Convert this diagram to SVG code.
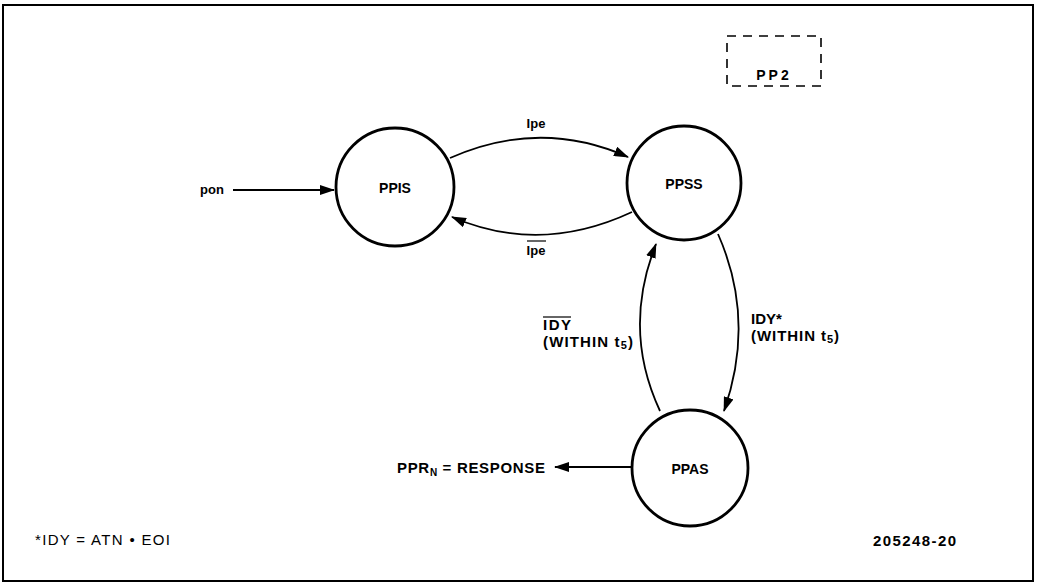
<svg xmlns="http://www.w3.org/2000/svg" width="1037" height="584" viewBox="0 0 1037 584">
<style>
.node{fill:#fff;stroke:#000;stroke-width:2.8}
.edge{fill:none;stroke:#000;stroke-width:1.8}
.lbl{font-family:"Liberation Sans",Arial,sans-serif;font-weight:bold;font-size:15px;fill:#000}
.nl{font-family:"Liberation Sans",Arial,sans-serif;font-weight:bold;font-size:14px;fill:#000}
.sm{font-family:"Liberation Sans",Arial,sans-serif;font-weight:bold;font-size:13px;fill:#000}
.ft{font-family:"Liberation Sans",Arial,sans-serif;font-weight:normal;font-size:15px;fill:#000}
</style>
<defs>
<marker id="ah" markerWidth="15" markerHeight="10" refX="14" refY="5" orient="auto" markerUnits="userSpaceOnUse">
<path d="M0,0 L15,5 L0,10 Z" fill="#000"/>
</marker>
</defs>
<rect x="3" y="5" width="1030" height="576" fill="#fff" stroke="#000" stroke-width="2"/>
<g id="pp2">
<rect x="727" y="36" width="94" height="50" fill="none" stroke="#000" stroke-width="1.6" stroke-dasharray="9,7"/>
<text class="nl" x="774" y="80" text-anchor="middle" letter-spacing="3">PP2</text>
</g>
<g id="edges">
<line class="edge" x1="233" y1="190" x2="334" y2="190" marker-end="url(#ah)"/>
<path class="edge" d="M 450 158 Q 540 118 628 157" marker-end="url(#ah)"/>
<path class="edge" d="M 632 212 Q 540 255 452 217" marker-end="url(#ah)"/>
<path class="edge" d="M 660 411 Q 622 330 656 244" marker-end="url(#ah)"/>
<path class="edge" d="M 718 234 Q 756 320 724 411" marker-end="url(#ah)"/>
<line class="edge" x1="632" y1="467" x2="555" y2="467" marker-end="url(#ah)"/>
<text class="sm" x="536" y="128" text-anchor="middle">Ipe</text>
<text class="sm" x="536" y="255" text-anchor="middle">Ipe</text>
<line x1="527" y1="241" x2="546" y2="241" stroke="#000" stroke-width="1.2"/>
<text class="lbl" x="543" y="330" textLength="28">IDY</text>
<line x1="543" y1="317" x2="571" y2="317" stroke="#000" stroke-width="1.2"/>
<text class="lbl" x="543" y="347" textLength="90">(WITHIN t<tspan font-size="11" dy="2">5</tspan><tspan dy="-2">)</tspan></text>
<text class="lbl" x="751" y="324">IDY*</text>
<text class="lbl" x="751" y="341" textLength="88">(WITHIN t<tspan font-size="11" dy="2">5</tspan><tspan dy="-2">)</tspan></text>
</g>
<g id="ppis">
<circle class="node" cx="395" cy="187" r="59"/>
<text class="nl" x="395" y="193" text-anchor="middle">PPIS</text>
</g>
<g id="ppss">
<circle class="node" cx="684" cy="183" r="57"/>
<text class="nl" x="684" y="189" text-anchor="middle">PPSS</text>
</g>
<g id="ppas">
<circle class="node" cx="690" cy="468" r="58"/>
<text class="nl" x="690" y="474" text-anchor="middle">PPAS</text>
</g>
<g id="labels">
<text class="sm" x="200" y="194">pon</text>
<text class="lbl" x="397" y="473" textLength="148">PPR<tspan font-size="10" dy="3">N</tspan><tspan dy="-3"> = RESPONSE</tspan></text>
<text class="ft" x="35" y="545" textLength="135">*IDY = ATN • EOI</text>
<text class="lbl" x="873" y="546" textLength="83">205248-20</text>
</g>
</svg>
